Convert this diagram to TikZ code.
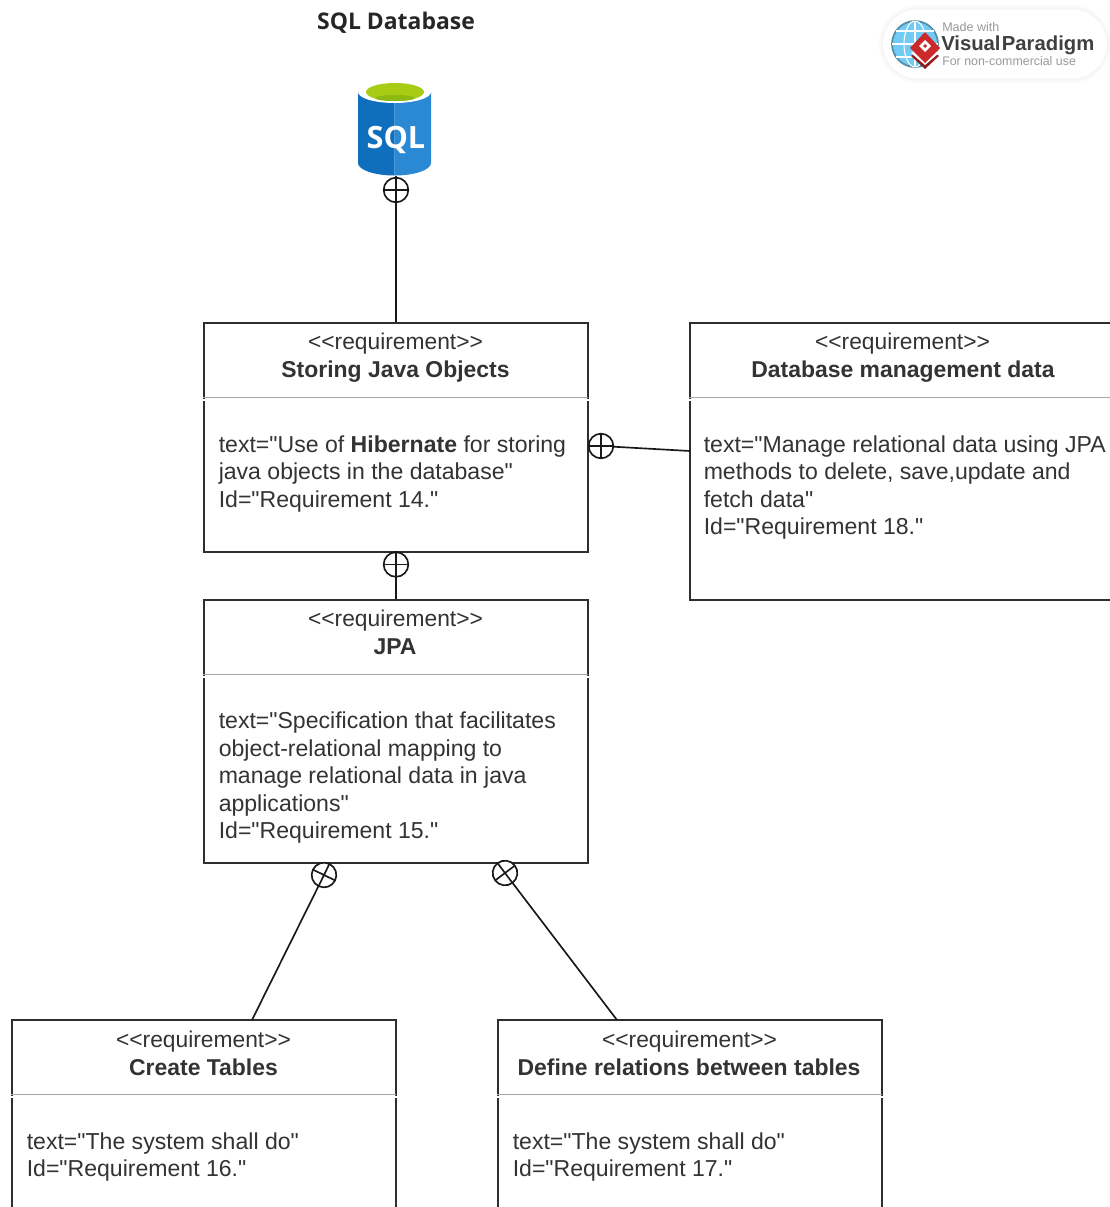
\documentclass[tikz,border=0pt]{standalone}
\usepackage{fontspec}
\setmainfont{Liberation Sans}[Ligatures=TeXOff]
\newfontfamily\opensans{Open Sans}
\usetikzlibrary{shadows.blur}
\tikzset{
  x=0.75pt,y=-0.75pt,
  reqbox/.style={draw=black!82,line width=1.35pt,fill=white,inner sep=0,anchor=north west,minimum width=288pt},
  rule/.style={draw=black!35,line width=0.9pt},
  gap/.style={draw=white,line width=1pt},
  conn/.style={draw=black!90,line width=1.25pt},
  stereo/.style={inner sep=0,anchor=base,font=\fontsize{17.1pt}{20pt}\selectfont,text=black!80},
  rname/.style={inner sep=0,anchor=base,font=\fontsize{17.2pt}{20pt}\selectfont\bfseries,text=black!80},
  body/.style={inner sep=0,anchor=north west,align=left,font=\fontsize{17.3pt}{20.6pt}\selectfont,text=black!80},
  plus/.style={circle,draw=black!90,line width=1.25pt,fill=white,minimum size=18.5pt,inner sep=0,outer sep=0},
}
\definecolor{sqldark}{HTML}{0F6FBD}
\definecolor{sqllight}{HTML}{2B88D2}
\definecolor{sqlgreen}{HTML}{A8CC14}
\definecolor{sqlgreendk}{HTML}{8DBA12}
\definecolor{vpred}{HTML}{CC2A2A}
\definecolor{vpblue}{HTML}{72CBF5}
\definecolor{vpteal}{HTML}{4F8FA8}
\begin{document}
\begin{tikzpicture}
\useasboundingbox (0,0) rectangle (1110,1207);
\clip (0,0) rectangle (1110,1207);
% title
\node[inner sep=0,anchor=base,font=\opensans\bfseries\fontsize{17.2pt}{19pt}\selectfont,text=black!85] (title) at (396,29) {SQL Database};
% SQL cylinder
\fill[sqldark] (358,92) -- (358,163) arc[start angle=180,end angle=90,x radius=36.5,y radius=12.5] -- (394.5,92) -- cycle;
\fill[sqllight] (394.5,92) -- (394.5,175.5) arc[start angle=90,end angle=0,x radius=36.5,y radius=12.5] -- (431,92) -- cycle;
\fill[white] (394.5,92) ellipse[x radius=36.5,y radius=11];
\fill[sqlgreen] (395,92) ellipse[x radius=29,y radius=9];
\fill[sqlgreendk] (395,98) ellipse[x radius=20,y radius=3];
\node[inner sep=0,anchor=base,text=white,font=\opensans\bfseries\fontsize{23pt}{25pt}\selectfont] (sqltxt) at (396,148) {SQL};
\coordinate (db) at (396,176);
% logo
\node[draw=none,fill=white,rounded corners=26pt,minimum width=168pt,minimum height=52pt,inner sep=0,blur shadow={shadow blur steps=10,shadow xshift=0pt,shadow yshift=0pt,shadow blur radius=4pt,shadow opacity=10}] (logo) at (995,44) {};
\fill[vpblue] (915,44) circle[radius=23];
\draw[vpteal,line width=1.3pt] (915,44) circle[radius=23];
\draw[white,line width=0.8pt] (915,21) -- (915,67) (892,44) -- (938,44) (896,31) -- (934,31) (896,57) -- (934,57);
\draw[white,line width=0.8pt] (915,44) ellipse[x radius=11,y radius=23];
\fill[vpred!70!black] (911,56) -- (925,45) -- (939,56) -- (925,69) -- cycle;
\fill[white] (911,53) -- (925,42) -- (939,53) -- (925,65) -- cycle;
\fill[vpred] (910,48) -- (925,32) -- (940,48) -- (925,63) -- cycle;
\fill[white] (919,46) -- (925,40) -- (931,46) -- (925,52) -- cycle;
\fill[vpred] (923,46) -- (925,44) -- (927,46) -- (925,48) -- cycle;
\node[inner sep=0,anchor=base west,text=black!40,font=\fontsize{9.4pt}{10pt}\selectfont] (lg1) at (942,31) {Made with};
\node[inner sep=0,anchor=base west,text=black!75,font=\bfseries\fontsize{15.2pt}{17pt}\selectfont] (lg2) at (941,50) {Visual\kern1pt Paradigm};
\node[inner sep=0,anchor=base west,text=black!40,font=\fontsize{9.3pt}{10pt}\selectfont] (lg3) at (942,65) {For non-commercial use};
% boxes
\node[reqbox,minimum height=171.75pt] (b1) at (202.8,321.7) {};
\draw[gap] (201,400) -- (590,400);
\draw[rule] (203,397.5) -- (588,397.5);
\node[stereo] (b1s) at (395.5,349) {<{}<requirement>{}>};
\node[rname] (b1n) at (395.5,377) {Storing Java Objects};
\node[body] (b1t) at (218.5,435.5) {text="Use of \textbf{Hibernate} for storing\\java objects in the database"\\Id="Requirement 14."};
\node[reqbox,minimum height=207.75pt,minimum width=340pt] (b2) at (688.8,321.7) {};
\draw[gap] (687,400) -- (1110,400);
\draw[rule] (689,397.5) -- (1110,397.5);
\node[stereo] (b2s) at (902.5,349) {<{}<requirement>{}>};
\node[rname] (b2n) at (903,377) {Database management data};
\node[body] (b2t) at (703.5,435.5) {text="Manage relational data using JPA\\methods to delete, save,update and\\fetch data"\\Id="Requirement 18."};
\node[reqbox,minimum height=197.25pt] (b3) at (202.8,598.7) {};
\draw[gap] (201,677) -- (590,677);
\draw[rule] (203,674.5) -- (588,674.5);
\node[stereo] (b3s) at (395.5,626) {<{}<requirement>{}>};
\node[rname] (b3n) at (395,654) {JPA};
\node[body] (b3t) at (218.5,712) {text="Specification that facilitates\\object-relational mapping to\\manage relational data in java\\applications"\\Id="Requirement 15."};
\node[reqbox,minimum height=171.5pt] (b4) at (10.8,1019.2) {};
\draw[gap] (9,1097) -- (398,1097);
\draw[rule] (11,1094.5) -- (396,1094.5);
\node[stereo] (b4s) at (203.5,1047) {<{}<requirement>{}>};
\node[rname] (b4n) at (203.5,1075) {Create Tables};
\node[body] (b4t) at (26.5,1132.5) {text="The system shall do"\\Id="Requirement 16."};
\node[reqbox,minimum height=171.5pt] (b5) at (496.8,1019.2) {};
\draw[gap] (495,1097) -- (884,1097);
\draw[rule] (497,1094.5) -- (882,1094.5);
\node[stereo] (b5s) at (689.5,1047) {<{}<requirement>{}>};
\node[rname] (b5n) at (689,1075) {Define relations between tables};
\node[body] (b5t) at (512.5,1132.5) {text="The system shall do"\\Id="Requirement 17."};
% containment marks
\node[plus] (p1) at (396,190) {};
\node[plus] (p2) at (396,564.5) {};
\node[plus] (p3) at (601,446) {};
\node[plus,rotate=-26] (p4) at (324,875) {};
\node[plus,rotate=37] (p5) at (505,873) {};
\foreach \m in {p1,p2,p3,p4,p5}{
  \draw[conn] (\m.north) -- (\m.south) (\m.east) -- (\m.west);
}
\coordinate (b2l) at (690,451);
\coordinate (b4top) at (252,1020);
\coordinate (b5top) at (617,1020);
\coordinate (b1top) at (396,322);
\coordinate (b1bot) at (396,551);
\coordinate (b3top) at (396,599);
% connectors
\draw[conn] (db) -- (p1);
\draw[conn] (p1) -- (b1top);
\draw[conn] (b1bot) -- (p2);
\draw[conn] (p2) -- (b3top);
\draw[conn] (p3) -- (b2l);
\draw[conn] (p4) -- (b4top);
\draw[conn] (p5) -- (b5top);
\end{tikzpicture}
\end{document}
